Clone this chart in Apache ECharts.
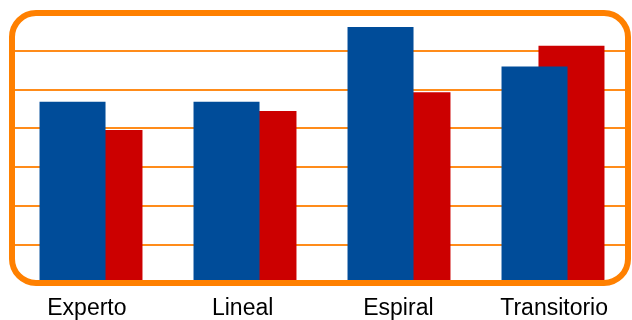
<!DOCTYPE html>
<html>
<head>
<meta charset="utf-8">
<script src="https://cdn.jsdelivr.net/npm/echarts@6/dist/echarts.min.js"></script>
<style>
  html, body { margin: 0; padding: 0; background: #ffffff; }
  #chart { width: 632px; height: 320px; }
</style>
</head>
<body>
<div id="chart"></div>
<script>
// Categories and the two series of values (scale 0 to 7)
const categories = ['Experto', 'Lineal', 'Espiral', 'Transitorio'];
const blueValues = [4.68, 4.68, 6.61, 5.59];
const redValues = [3.95, 4.44, 4.93, 6.13];

const ORANGE = '#ff8000';
const GRID_LINE = '#ff8c1a';
const chart = echarts.init(document.getElementById('chart'), null, { renderer: 'canvas' });

chart.setOption({
  animation: false,
  backgroundColor: '#ffffff',
  grid: [
    { left: 14, width: 616, top: 12, height: 271 },
    // label band, spaced slightly wider than the bar groups
    { left: 9, width: 634, top: 12, height: 271 }
  ],
  xAxis: [
    {
      type: 'category',
      gridIndex: 0,
      data: categories,
      axisLine: { show: false },
      axisTick: { show: false },
      axisLabel: { show: false },
      splitLine: { show: false }
    },
    {
      type: 'category',
      gridIndex: 1,
      data: categories,
      axisLine: { show: false },
      axisTick: { show: false },
      splitLine: { show: false },
      axisLabel: {
        margin: 17,
        lineHeight: 23,
        fontFamily: 'Liberation Sans, Arial, sans-serif',
        fontSize: 23,
        color: '#000000'
      }
    }
  ],
  yAxis: [
    {
      type: 'value',
      gridIndex: 0,
      min: 0,
      max: 7,
      interval: 1,
      axisLine: { show: false },
      axisTick: { show: false },
      axisLabel: { show: false },
      splitLine: {
        show: true,
        // outermost lines sit under the frame, so leave them out
        lineStyle: {
          color: ['rgba(0,0,0,0)', GRID_LINE, GRID_LINE, GRID_LINE, GRID_LINE, GRID_LINE, GRID_LINE, 'rgba(0,0,0,0)'],
          width: 2
        }
      }
    },
    {
      type: 'value',
      gridIndex: 1,
      min: 0,
      max: 1,
      show: false,
      axisLine: { show: false },
      axisTick: { show: false },
      axisLabel: { show: false },
      splitLine: { show: false }
    }
  ],
  series: [
    {
      type: 'bar',
      xAxisIndex: 0,
      yAxisIndex: 0,
      data: blueValues,
      barWidth: 66,
      barGap: '-44%',
      z: 3,
      itemStyle: { color: '#004c99' }
    },
    {
      type: 'bar',
      xAxisIndex: 0,
      yAxisIndex: 0,
      data: redValues,
      barWidth: 66,
      z: 2,
      itemStyle: { color: '#cc0000' }
    }
  ],
  graphic: [
    {
      type: 'rect',
      z: 100,
      shape: { x: 12, y: 13, width: 616, height: 270, r: 24 },
      style: { fill: 'none', stroke: ORANGE, lineWidth: 6 }
    }
  ]
});
</script>
</body>
</html>
